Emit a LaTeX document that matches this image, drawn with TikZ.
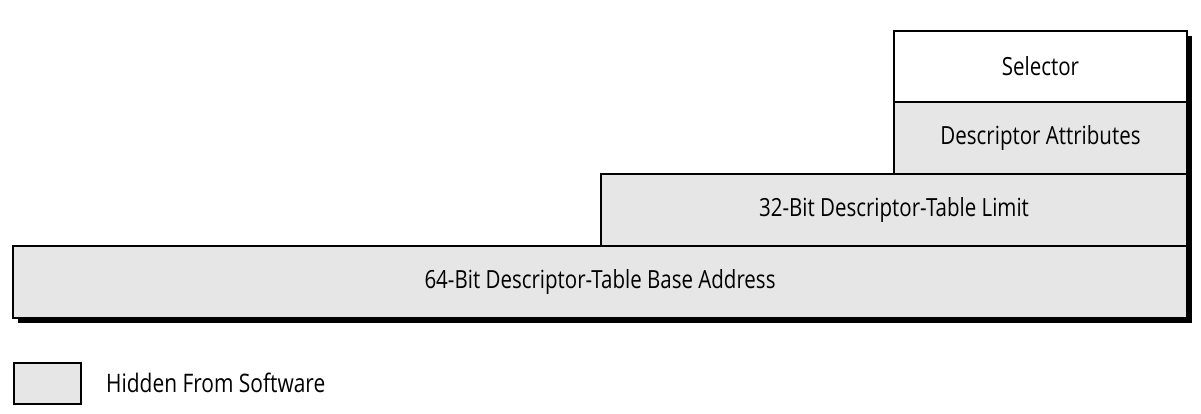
\documentclass[tikz,border=0pt]{standalone}
\usepackage{fontspec}
\setmainfont{Open Sans}[FakeStretch=0.82]
\usetikzlibrary{shadows}
\definecolor{hid}{HTML}{E6E6E6}
\begin{document}
\begin{tikzpicture}[x=1pt,y=-1pt,
  regbox/.style={draw=black, line width=1.6pt, inner sep=0pt, outer sep=0pt,
    anchor=north west, font=\fontsize{25}{30}\selectfont,
    drop shadow={shadow xshift=4.5pt, shadow yshift=-4.5pt, fill=black, opacity=1}},
  hidden/.style={fill=hid},
  visible/.style={fill=white}]
\useasboundingbox (0,0) rectangle (1201,413);
\node[regbox, visible, minimum width=293pt, minimum height=71pt] (sel) at (894,31) {Selector};
\node[regbox, hidden, minimum width=293pt, minimum height=72pt] (attr) at (894,102) {Descriptor Attributes};
\node[regbox, hidden, minimum width=586pt, minimum height=72pt] (lim) at (601,174) {32-Bit Descriptor-Table Limit};
\node[regbox, hidden, minimum width=1174pt, minimum height=72pt] (base) at (13,246) {64-Bit Descriptor-Table Base Address};
\node[draw=black, line width=1.6pt, fill=hid, inner sep=0pt, anchor=north west,
  minimum width=67pt, minimum height=41pt] (leg) at (13,362) {};
\node[anchor=west, inner sep=0pt, font=\fontsize{25.5}{30}\selectfont] (legtxt) at (106,383) {Hidden From Software};
\end{tikzpicture}
\end{document}
